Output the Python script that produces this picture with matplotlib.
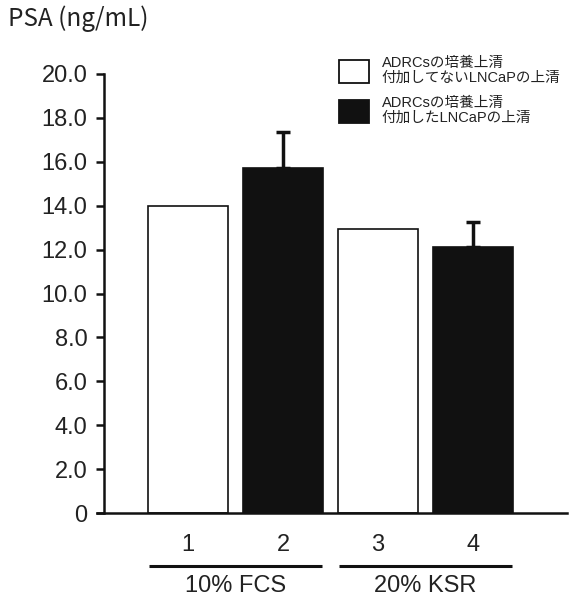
import matplotlib
matplotlib.use("Agg")
import matplotlib.pyplot as plt
from matplotlib.patches import Patch

# ---- data ----
categories = ["1", "2", "3", "4"]
psa_values = [14.0, 15.7, 12.95, 12.1]
psa_errors = [0.0, 1.67, 0.0, 1.15]
bar_is_supplemented = [False, True, False, True]
group_labels = ["10% FCS", "20% KSR"]
group_members = [[0, 1], [2, 3]]
yticks = [0, 2, 4, 6, 8, 10, 12, 14, 16, 18, 20]
ytick_labels = ["0"] + [f"{v:.1f}" for v in yticks[1:]]
legend_labels = ["ADRCsの培養上清\n付加してないLNCaPの上清",
                 "ADRCsの培養上清\n付加したLNCaPの上清"]
ylabel = "PSA (ng/mL)"

fam = ["Liberation Sans", "Noto Sans CJK JP", "DejaVu Sans"]
plt.rcParams["font.family"] = fam
txt_color = "#222222"

fig = plt.figure(figsize=(5.73, 6.05), dpi=100)
ax = fig.add_axes([97/573, 1 - 513/605, (567 - 97)/573, (513 - 74)/605])

pos = list(range(1, len(categories) + 1))
colors = ["#111111" if s else "white" for s in bar_is_supplemented]
ax.bar(pos, psa_values, width=0.84, color=colors, edgecolor="#111111",
       linewidth=1.2, zorder=2)
for p, v, e in zip(pos, psa_values, psa_errors):
    if e > 0:
        ax.errorbar([p], [v], yerr=[[0], [e]], fmt="none", ecolor="#111111",
                    elinewidth=2.5, capsize=4.7, capthick=2.5, zorder=3)

ax.set_xlim(0.042, 4.99)
ax.set_ylim(0, 20)
for s in ["top", "right"]:
    ax.spines[s].set_visible(False)
ax.spines["left"].set_position(("data", 0.116))
ax.spines["left"].set_linewidth(1.8)
ax.spines["bottom"].set_linewidth(1.8)
ax.spines["left"].set_color("#111111")
ax.spines["bottom"].set_color("#111111")

ax.set_yticks(yticks)
ax.set_yticklabels(ytick_labels, fontsize=17, color=txt_color)
ax.tick_params(axis="y", direction="out", length=6, width=1.8, pad=6,
               color="#111111")
ax.set_xticks(pos)
ax.set_xticklabels(categories, fontsize=17, color=txt_color)
ax.tick_params(axis="x", length=0, pad=15)

tr = ax.get_xaxis_transform()
for lab, mem in zip(group_labels, group_members):
    c = sum(pos[i] for i in mem) / len(mem)
    ax.plot([c - 0.91, c + 0.91], [-0.121, -0.121], transform=tr,
            color="#111111", lw=2.2, clip_on=False, solid_capstyle="butt")
    ax.text(c, -0.167, lab, transform=tr, ha="center", va="center",
            fontsize=17, color=txt_color)

fig.text(8/573, 1 - 5/605, ylabel, ha="left", va="top", fontsize=17.5,
         family=["Noto Sans CJK JP", "DejaVu Sans"], color=txt_color)

handles = [Patch(facecolor=c, edgecolor="#111111", linewidth=1.3)
           for c in ["white", "#111111"]]
leg = fig.legend(handles, legend_labels, loc="upper left",
                 bbox_to_anchor=(329/573, 1 - 46/605), frameon=False,
                 fontsize=10.5, handlelength=2.05, handleheight=2.0,
                 handletextpad=0.85, labelspacing=0.8, borderpad=0.2)
for t in leg.get_texts():
    t.set_color(txt_color)
    t.set_linespacing(1.05)

fig.savefig("out.png", dpi=100)
